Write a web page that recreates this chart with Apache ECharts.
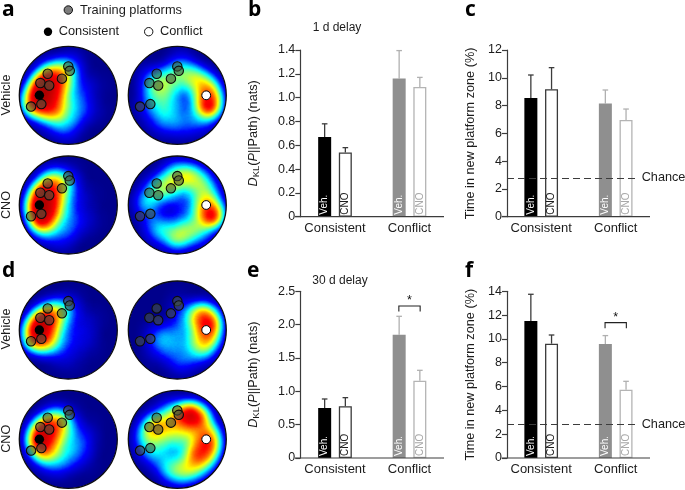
<!DOCTYPE html>
<html><head><meta charset="utf-8">
<style>html,body{margin:0;padding:0;background:#fff}#c{width:685px;height:490px}</style>
<script src="https://cdn.jsdelivr.net/npm/echarts@6/dist/echarts.min.js"></script>
</head><body><div id="c"></div>
<script>
// ---------- bar chart data ----------
const categories = ['Consistent', 'Conflict'];
const seriesNames = ['Veh.', 'CNO'];
const vehB = [0.67, 1.16], cnoB = [0.54, 1.09];
const vehBTop = [0.78, 1.395], cnoBTop = [0.58, 1.17];
const vehC = [8.55, 8.14], cnoC = [9.17, 6.96];
const vehCTop = [10.2, 9.12], cnoCTop = [10.73, 7.75];
const vehE = [0.75, 1.85], cnoE = [0.775, 1.16];
const vehETop = [0.885, 2.125], cnoETop = [0.905, 1.315];
const vehF = [11.5, 9.58], cnoF = [9.6, 5.74];
const vehFTop = [13.75, 10.28], cnoFTop = [10.33, 6.44];
const chanceLevel = 2.8;
const bracketE = 2.28, bracketF = 11.37;
const rowLabels = ['Vehicle', 'CNO', 'Vehicle', 'CNO'];
const legendLabels = ['Training platforms', 'Consistent', 'Conflict'];
const panelLetters = ['a', 'b', 'c', 'd', 'e', 'f'];

// ---------- platform positions on the unit disk ----------
const trainingPlatforms = [[0,.59],[.03,.5],[-.42,.44],[-.13,.34],[-.57,.25],[-.39,.2],[-.76,-.23],[-.55,-.18]];
const consistentPlatform = [[-.59,0]];
const conflictPlatform = [[.59,0]];

// ---------- occupancy: [x, y, level] ----------
const heatAV = [[-.6,.02,.95],[-.5,.22,.8],[-.35,.38,.5],[-.15,.38,.35],[-.05,.52,.3],[-.7,-.2,.6],[-.45,-.2,.6],[-.25,-.3,.5],[-.25,0,.45],[-.25,.18,.35],[.02,.15,.12],[.1,-.15,.2],[.1,-.45,.2],[-.15,-.6,.2],[-.45,-.55,.12],[.25,.3,.1],[.3,.0,.12],[.35,-.35,.1],[.0,-.78,.1],[.1,.7,.1],[-.4,.6,.1],[.6,.2,.04],[.6,-.3,.04]];
const heatAC = [[.64,-.22,.8],[.64,.02,.55],[.58,.22,.38],[.35,.36,.42],[.15,.42,.2],[-.02,.48,.22],[-.2,.35,.25],[-.42,.22,.35],[-.55,-.05,.22],[-.28,-.02,.2],[-.25,-.3,.3],[-.6,-.35,.12],[.02,-.15,.14],[.28,.02,.12],[-.02,-.58,.22],[.3,-.42,.18],[.55,-.55,.15],[-.35,-.6,.15],[-.6,.4,.12],[.1,.75,.12],[.25,-.72,.08],[-.1,.15,.18]];
const heatBV = [[-.6,-.02,.95],[-.52,.22,.85],[-.35,.42,.5],[-.15,.42,.35],[-.55,-.28,.8],[-.38,-.1,.55],[-.3,.12,.4],[-.45,-.5,.3],[.0,.6,.12],[-.05,.1,.15],[-.08,-.2,.22],[-.05,-.5,.2],[-.15,-.75,.1],[.12,.3,.1],[.25,-.05,.08],[.25,-.4,.1],[.45,.2,.03],[.5,-.3,.04],[-.35,.65,.1]];
const heatBC = [[.7,-.22,.85],[.62,.0,.45],[.62,.25,.3],[.5,.48,.32],[.25,.6,.45],[.02,.55,.3],[-.15,.42,.35],[-.42,.35,.35],[-.62,.05,.35],[-.55,-.35,.15],[-.3,-.48,.32],[.0,-.68,.45],[.2,-.5,.35],[.45,-.5,.3],[.1,-.12,.16],[.3,.2,.2],[-.2,.18,.16],[.45,-.15,.15],[-.45,-.7,.08],[.5,-.75,.08],[-.1,.75,.15]];
const heatDV = [[-.62,.02,.95],[-.5,.2,.75],[-.3,.32,.45],[-.12,.42,.25],[-.66,-.2,.6],[-.42,-.22,.45],[.08,.55,.08],[-.28,.02,.22],[-.05,.12,.08],[-.15,-.15,.12],[.05,-.25,.1],[.3,-.02,.1],[.15,.28,.07],[-.25,-.48,.12],[.05,-.6,.08],[.4,-.3,.07],[.5,.22,.05],[-.45,.52,.05]];
const heatDC = [[.64,.1,.7],[.62,-.14,.5],[.48,.3,.5],[.62,.3,.25],[.25,.28,.2],[.55,-.38,.35],[.32,-.22,.28],[.1,.0,.18],[-.18,-.12,.18],[-.38,-.2,.2],[-.08,-.42,.2],[.05,-.68,.15],[.3,-.58,.15],[.0,.35,.08],[-.5,.0,.05],[.05,.6,.05],[-.45,-.48,.08]];
const heatEV = [[-.58,-.02,.95],[-.5,.2,.7],[-.3,.3,.5],[-.12,.35,.3],[-.5,-.25,.55],[-.25,.02,.3],[-.2,-.22,.25],[.05,.1,.2],[.05,.5,.07],[-.12,-.5,.2],[.12,-.25,.18],[.33,-.05,.14],[-.4,-.55,.12],[.3,-.42,.08],[.4,.25,.05],[-.3,.55,.12]];
const heatEC = [[.25,.5,.9],[.45,.42,.6],[.02,.45,.45],[.62,.1,.5],[.62,-.1,.6],[.38,-.32,.6],[.6,-.32,.4],[-.18,.25,.4],[-.45,.28,.55],[-.6,.08,.35],[.12,.12,.25],[.3,.1,.25],[-.02,-.1,.22],[-.3,-.12,.25],[-.52,-.3,.25],[-.18,-.58,.35],[.1,-.62,.35],[.3,-.62,.32],[-.2,.62,.18],[-.7,-.1,.1],[.0,-.85,.08],[.55,-.6,.15]];

// ---------- layout ----------
const R = 49;
const disks = [
  {c:[68.3,95.3],  heat:heatAV, mark:'consistent'},
  {c:[177.3,95.3], heat:heatAC, mark:'conflict'},
  {c:[68.3,205],   heat:heatBV, mark:'consistent'},
  {c:[177.3,205],  heat:heatBC, mark:'conflict'},
  {c:[68.3,330],   heat:heatDV, mark:'consistent'},
  {c:[177.3,330],  heat:heatDC, mark:'conflict'},
  {c:[68.3,439.3], heat:heatEV, mark:'consistent'},
  {c:[177.3,439.3],heat:heatEC, mark:'conflict'}
];
const panels = [
  {veh:vehB,cno:cnoB,vehTop:vehBTop,cnoTop:cnoBTop,max:1.4,interval:.2,dec:1,axisX:300.3,groupC:335,top:50,base:216.7,baseL:295,baseR:444,name:'dkl',chance:false},
  {veh:vehC,cno:cnoC,vehTop:vehCTop,cnoTop:cnoCTop,max:12,interval:2,dec:0,axisX:507,groupC:541.2,top:50,base:216.7,baseL:501.7,baseR:650,name:'t',chance:true},
  {veh:vehE,cno:cnoE,vehTop:vehETop,cnoTop:cnoETop,max:2.5,interval:.5,dec:1,axisX:300.3,groupC:335,top:291.3,base:458,baseL:295,baseR:444,name:'dkl',chance:false,sig:bracketE},
  {veh:vehF,cno:cnoF,vehTop:vehFTop,cnoTop:cnoFTop,max:14,interval:2,dec:0,axisX:507,groupC:541.2,top:291.3,base:458,baseL:501.7,baseR:650,name:'t',chance:true,sig:bracketF}
];
const BAND = 74.5, BAR = 13, SIDE = 10.35;
const TEXT = '#1c1c1c', AXIS = '#3c3c3c', FONT = '"Liberation Sans",Arial,sans-serif';

const circle = [];
for (let i = 0; i <= 72; i++) circle.push([Math.cos(i*Math.PI/36), Math.sin(i*Math.PI/36)]);
echarts.registerMap('disk', {type:'FeatureCollection',features:[{type:'Feature',properties:{name:'disk'},geometry:{type:'Polygon',coordinates:[circle]}}]});

const series = [], geo = [], heatIdx = [];
disks.forEach((d,i) => {
  geo.push({map:'disk',aspectScale:1,boundingCoords:[[-1,1],[1,-1]],layoutCenter:d.c,layoutSize:2*R,silent:true,roam:false,
    label:{show:false},itemStyle:{areaColor:'#00008c',borderWidth:0},emphasis:{disabled:true},select:{disabled:true}});
  heatIdx.push(series.length);
  series.push({type:'heatmap',coordinateSystem:'geo',geoIndex:i,data:d.heat,pointSize:12,blurSize:15,minOpacity:1,maxOpacity:1,silent:true,z:2});
  series.push({type:'scatter',coordinateSystem:'geo',geoIndex:i,data:[[0,0]],symbol:'path://M0 0H100V100H0Z M50 1A49 49 0 0 0 50 99A49 49 0 0 0 50 1Z',symbolSize:100,symbolKeepAspect:true,itemStyle:{color:'#fff',opacity:1},silent:true,z:3,animation:false});
  series.push({type:'scatter',coordinateSystem:'geo',geoIndex:i,data:[[0,0]],symbol:'circle',symbolSize:2*R,itemStyle:{color:'rgba(0,0,0,0)',borderColor:'#0d0d12',borderWidth:1.3,opacity:1},silent:true,z:4});
  series.push({type:'scatter',coordinateSystem:'geo',geoIndex:i,data:trainingPlatforms,symbol:'circle',symbolSize:9.4,itemStyle:{color:'rgba(70,85,60,.6)',borderColor:'#0c0c0c',borderWidth:1.1,opacity:1},silent:true,z:5});
  const con = d.mark === 'consistent';
  series.push({type:'scatter',coordinateSystem:'geo',geoIndex:i,data:con?consistentPlatform:conflictPlatform,symbol:'circle',symbolSize:con?9.4:8.8,itemStyle:{color:con?'#000':'#fff',borderColor:'#000',borderWidth:con?0:1,opacity:1},silent:true,z:6});
});

const grid = [], xAxis = [], yAxis = [];
const barStyles = {
  veh:[{color:'#000',borderWidth:0},{color:'#8f8f8f',borderWidth:0}],
  cno:[{color:'#fff',borderColor:'#3a3a3a',borderWidth:1.3},{color:'#fff',borderColor:'#b4b4b4',borderWidth:1.3}]
};
const labelColors = {veh:['#fff','#fff'],cno:['#1c1c1c','#a8a8a8']};
const errColors = ['#3c3c3c','#b0b0b0'];

panels.forEach((p,g) => {
  const left = p.groupC - BAND/2;
  grid.push({left:left,width:2*BAND,top:p.top,height:p.base-p.top});
  xAxis.push({type:'category',gridIndex:g,data:categories,
    axisLine:{show:false},axisTick:{show:false},
    axisLabel:{fontFamily:FONT,fontSize:13,color:TEXT,margin:5,interval:0,hideOverlap:false,overflow:'none'}});
  const nameDkl = '{i|D}{s|KL}{n|(}{i|P}{n|||Path) (nats)}';
  yAxis.push({type:'value',gridIndex:g,min:0,max:p.max,interval:p.interval,offset:-(p.axisX-left),splitLine:{show:false},
    axisLine:{show:true,lineStyle:{color:AXIS,width:1.2}},axisTick:{show:true,length:5,lineStyle:{color:AXIS,width:1.2}},
    axisLabel:{fontFamily:FONT,fontSize:12.5,color:TEXT,margin:5,formatter:v=>v===0?'0':v.toFixed(p.dec)},
    nameLocation:'middle',nameGap:p.name==='dkl'?39:30,
    name:p.name==='dkl'?nameDkl:'Time in new platform zone (%)',
    nameTextStyle:p.name==='dkl'?{rich:{
        i:{fontFamily:FONT,fontSize:12.7,fontStyle:'italic',color:TEXT},
        s:{fontFamily:FONT,fontSize:9.5,color:TEXT,verticalAlign:'top',padding:[6,0,0,0]},
        n:{fontFamily:FONT,fontSize:12.7,color:TEXT}}}
      :{fontFamily:FONT,fontSize:12.7,color:TEXT}});
  ['veh','cno'].forEach((k,si) => {
    const s = {type:'bar',name:seriesNames[si],xAxisIndex:g,yAxisIndex:g,barWidth:BAR,barGap:'59%',z:3,
      data:p[k].map((v,i)=>({value:v,itemStyle:barStyles[k][i],
        label:{show:true,position:'insideBottom',rotate:90,align:'left',verticalAlign:'middle',distance:2,formatter:seriesNames[si],fontFamily:FONT,fontSize:10,color:labelColors[k][i]}})),
      silent:true};
    if (p.chance && si===1) {
      s.markLine = {silent:true,symbol:'none',animation:false,z:6,
        lineStyle:{color:'#3c3c3c',type:[7,4],width:1.2},
        label:{show:true,position:'end',formatter:'Chance',fontFamily:FONT,fontSize:12.7,color:TEXT,distance:5},
        data:[[{x:p.axisX,yAxis:chanceLevel},{x:p.baseR-13.3,yAxis:chanceLevel}]]};
    }
    series.push(s);
    const off = si===0?-SIDE:SIDE;
    series.push({type:'custom',xAxisIndex:g,yAxisIndex:g,silent:true,z:2,
      data:p[k].map((v,i)=>[i,v,p[k+'Top'][i]]),
      encode:{x:0,y:[1,2]},
      renderItem:(params,api)=>{
        const i = api.value(0);
        const a = api.coord([i,api.value(1)]), b = api.coord([i,api.value(2)]);
        const x = a[0]+off, c = errColors[i];
        return {type:'group',children:[
          {type:'line',shape:{x1:x,y1:a[1],x2:x,y2:b[1]},style:{stroke:c,lineWidth:1.3}},
          {type:'line',shape:{x1:x-2.8,y1:b[1],x2:x+2.8,y2:b[1]},style:{stroke:c,lineWidth:1.3}}
        ]};
      }});
  });
  if (p.sig !== undefined) {
    series.push({type:'custom',xAxisIndex:g,yAxisIndex:g,silent:true,z:4,data:[[1,p.sig]],encode:{x:0,y:1},
      renderItem:(params,api)=>{
        const a = api.coord([api.value(0),api.value(1)]);
        const x1=a[0]-SIDE-.3, x2=a[0]+SIDE+.3, y=a[1];
        return {type:'group',children:[
          {type:'polyline',shape:{points:[[x1,y+5.6],[x1,y],[x2,y],[x2,y+5.6]]},style:{stroke:'#222',lineWidth:1.1,fill:null}},
          {type:'text',style:{x:a[0],y:y-5,text:'*',fontFamily:FONT,fontSize:12.5,fill:'#111',align:'center',verticalAlign:'middle'}}
        ]};
      }});
  }
});

// ---------- text and legend ----------
const graphic = [];
const letterPos = [[2,21],[248,21],[465,21],[2,282],[247,282],[465,282]];
panelLetters.forEach((t,i)=>graphic.push({type:'text',x:letterPos[i][0],y:letterPos[i][1],style:{text:t,fontFamily:'"Open Sans",sans-serif',fontWeight:700,fontSize:21,fill:'#000',verticalAlign:'bottom'}}));
const rowY = [95,205,329,438.7];
rowLabels.forEach((t,i)=>graphic.push({type:'text',x:6.7,y:rowY[i],rotation:Math.PI/2,style:{text:t,fontFamily:FONT,fontSize:12.7,fill:TEXT,align:'center',verticalAlign:'middle'}}));
graphic.push({type:'text',x:337,y:27.3,style:{text:'1 d delay',fontFamily:FONT,fontSize:12,fill:TEXT,align:'center',verticalAlign:'middle'}});
graphic.push({type:'text',x:340,y:280.3,style:{text:'30 d delay',fontFamily:FONT,fontSize:12,fill:TEXT,align:'center',verticalAlign:'middle'}});
const legendPos = [[68.3,10,80,'#7d7d7d'],[48,31.7,58.7,'#000'],[148.7,31.7,160,'#fff']];
legendLabels.forEach((t,i)=>{
  const l = legendPos[i];
  graphic.push({type:'circle',shape:{cx:l[0],cy:l[1],r:4.2},style:{fill:l[3],stroke:'#111',lineWidth:i===1?0:1}});
  graphic.push({type:'text',x:l[2],y:l[1],style:{text:t,fontFamily:FONT,fontSize:12.8,fill:TEXT,verticalAlign:'middle'}});
});
panels.forEach(p=>graphic.push({type:'line',z:10,shape:{x1:p.baseL,y1:p.base,x2:p.baseR,y2:p.base},style:{stroke:AXIS,lineWidth:1.2}}));

const chart = echarts.init(document.getElementById('c'),null,{renderer:'canvas'});
chart.setOption({
  animation:false,backgroundColor:'#fff',
  geo,grid,xAxis,yAxis,series,graphic,
  visualMap:[{type:'continuous',show:false,min:0,max:.8,seriesIndex:heatIdx,
    inRange:{color:['#00008c','#0000ff','#00ffff','#ffff00','#ff0000','#800000']}}]
});
</script></body></html>
